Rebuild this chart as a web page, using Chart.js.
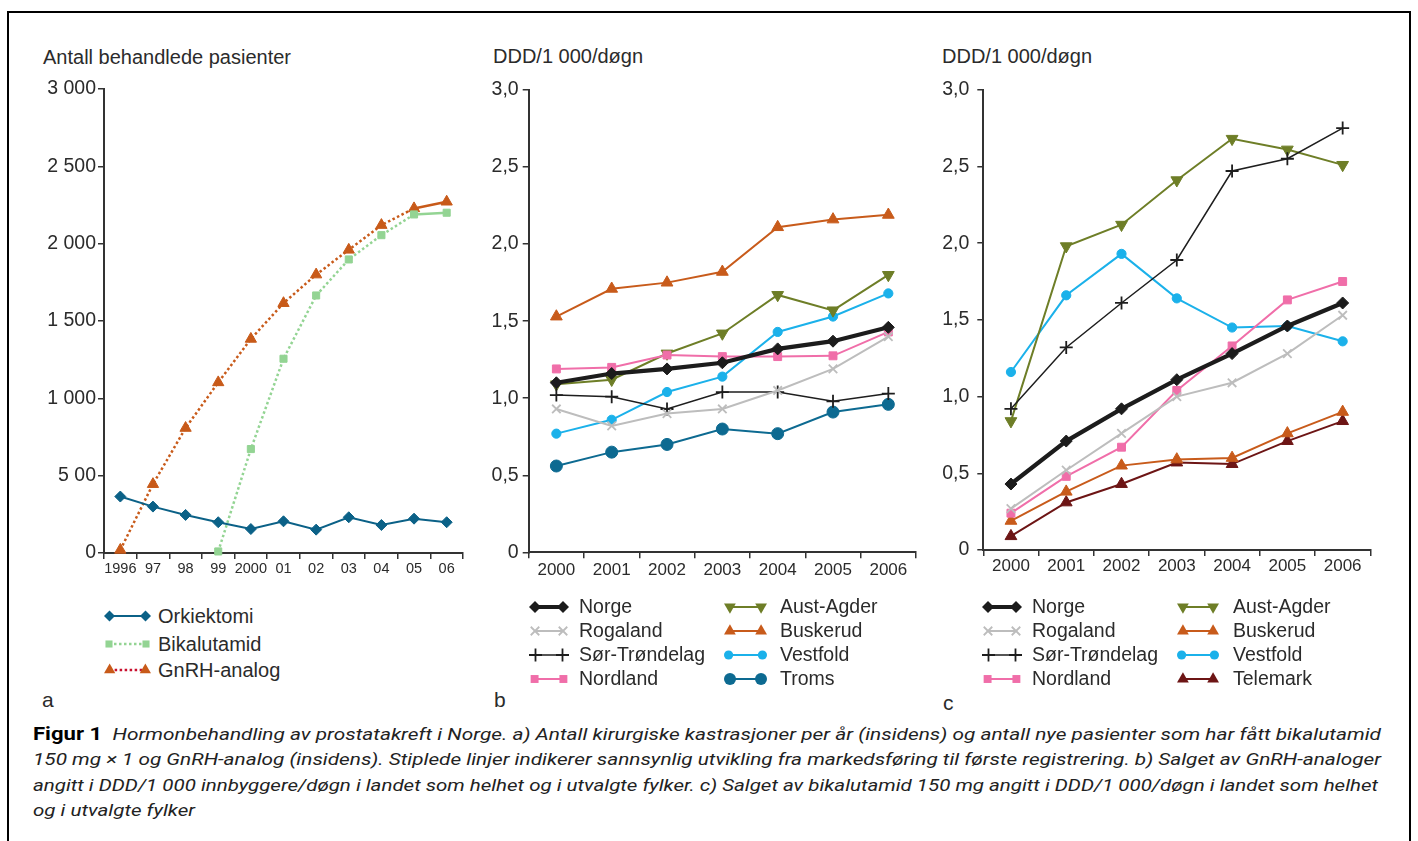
<!DOCTYPE html>
<html><head><meta charset="utf-8">
<script src="https://cdn.jsdelivr.net/npm/chart.js@4.4.1/dist/chart.umd.min.js"></script>
<style>
html,body{margin:0;padding:0;background:#fff}
body{width:1418px;height:841px;overflow:hidden;position:relative;font-family:"Liberation Sans",Arial,sans-serif;color:#2b2b2b}
#frame{position:absolute;left:7px;top:11px;width:1404px;height:900px;border:2.5px solid #000;border-bottom:none;box-sizing:border-box}
.t{position:absolute;white-space:nowrap;line-height:1;transform:translateY(-50%)}
canvas{position:absolute}
.cl{position:absolute;left:33px;white-space:nowrap;line-height:17px;font-size:17px;font-family:Roboto,"Open Sans",sans-serif;transform-origin:0 0;color:#1a1a1a}
.cl i{font-style:italic;color:#222}
.cl b{font-weight:700;font-style:normal;font-size:18px;color:#000}
</style>
</head>
<body>
<div id="frame"></div>

<div class="t" style="left:43px;top:57px;font-size:20px">Antall behandlede pasienter</div>
<div class="t" style="left:493px;top:56px;font-size:20px">DDD/1 000/døgn</div>
<div class="t" style="left:942px;top:56px;font-size:20px">DDD/1 000/døgn</div>

<canvas id="ca" width="475" height="530" style="left:10px;top:70px"></canvas>
<canvas id="cb" width="490" height="530" style="left:440px;top:70px"></canvas>
<canvas id="cc" width="490" height="530" style="left:900px;top:70px"></canvas>

<div id="legends"></div>

<div class="t" style="left:42px;top:699px;font-size:21px">a</div>
<div class="t" style="left:494px;top:699px;font-size:21px">b</div>
<div class="t" style="left:943px;top:702px;font-size:21px">c</div>

<div class="cl" data-w="1348" style="top:725px"><b>Figur 1</b>&nbsp;&nbsp;<i>Hormonbehandling av prostatakreft i Norge. a) Antall kirurgiske kastrasjoner per år (insidens) og antall nye pasienter som har fått bikalutamid</i></div>
<div class="cl" data-w="1348" style="top:751px"><i>150 mg × 1 og GnRH-analog (insidens). Stiplede linjer indikerer sannsynlig utvikling fra markedsføring til første registrering. b) Salget av GnRH-analoger</i></div>
<div class="cl" data-w="1345" style="top:776.5px"><i>angitt i DDD/1 000 innbyggere/døgn i landet som helhet og i utvalgte fylker. c) Salget av bikalutamid 150 mg angitt i DDD/1 000/døgn i landet som helhet</i></div>
<div class="cl" data-w="162" style="top:801.5px"><i>og i utvalgte fylker</i></div>

<script>
// ---------- DATA ----------
// Panel a
const yearsA = ['1996','97','98','99','2000','01','02','03','04','05','06'];
const orkiektomi = [365, 300, 246, 199, 155, 205, 151, 231, 181, 222, 199];
const bikalutamid = [null, null, null, 10, 672, 1256, 1665, 1898, 2055, 2189, 2200];
const gnrhAnalog = [20, 445, 808, 1103, 1384, 1615, 1800, 1960, 2120, 2228, 2271];
const yTicksA = ['0', '5 00', '1 000', '1 500', '2 000', '2 500', '3 000'];

// Panels b and c
const yearsBC = ['2000','2001','2002','2003','2004','2005','2006'];
const yTicksBC = ['0', '0,5', '1,0', '1,5', '2,0', '2,5', '3,0'];

// Panel b: GnRH-analoger, DDD/1 000/døgn
const bNorge        = [1.10, 1.16, 1.19, 1.23, 1.32, 1.37, 1.46];
const bRogaland     = [0.93, 0.82, 0.90, 0.93, 1.05, 1.19, 1.40];
const bSorTrondelag = [1.02, 1.01, 0.93, 1.04, 1.04, 0.98, 1.03];
const bNordland     = [1.19, 1.20, 1.28, 1.27, 1.27, 1.275, 1.43];
const bAustAgder    = [1.09, 1.12, 1.29, 1.42, 1.67, 1.57, 1.80];
const bBuskerud     = [1.53, 1.71, 1.75, 1.82, 2.11, 2.16, 2.19];
const bVestfold     = [0.77, 0.86, 1.04, 1.14, 1.43, 1.53, 1.68];
const bTroms        = [0.56, 0.65, 0.70, 0.80, 0.77, 0.91, 0.96];

// Panel c: bikalutamid 150 mg, DDD/1 000/døgn
const cNorge        = [0.43, 0.71, 0.92, 1.11, 1.28, 1.46, 1.61];
const cRogaland     = [0.27, 0.52, 0.76, 1.00, 1.09, 1.28, 1.53];
const cSorTrondelag = [0.92, 1.32, 1.61, 1.89, 2.47, 2.55, 2.75];
const cNordland     = [0.24, 0.48, 0.67, 1.04, 1.33, 1.63, 1.75];
const cAustAgder    = [0.84, 1.98, 2.12, 2.41, 2.68, 2.61, 2.51];
const cBuskerud     = [0.19, 0.38, 0.55, 0.59, 0.60, 0.76, 0.90];
const cVestfold     = [1.16, 1.66, 1.93, 1.64, 1.45, 1.46, 1.36];
const cTelemark     = [0.09, 0.31, 0.43, 0.57, 0.56, 0.71, 0.84];

// ---------- STYLES ----------
const ST = {
  'Orkiektomi':   {color:'#0b6187', width:2,   point:'rectRot', r:5.5},
  'Bikalutamid':  {color:'#93d493', width:2.5, point:'rect', r:5, dash:'2.5,2.5'},
  'GnRH-analog':  {color:'#c85a19', width:2.5, point:'triangle', r:6.5, dash:'2.5,2.5', legendLine:'#c8102e'},
  'Norge':        {color:'#1c1c1c', width:4.2, point:'rectRot', r:6},
  'Rogaland':     {color:'#bdbdbd', width:2,   point:'crossRot', r:6, pbw:1.8},
  'Sør-Trøndelag':{color:'#1e1e1e', width:1.5, point:'cross', r:6.5, pbw:1.8},
  'Nordland':     {color:'#f06ea9', width:2,   point:'rect', r:5.6},
  'Aust-Agder':   {color:'#6e7e27', width:2,   point:'triangle', rot:180, r:6.8},
  'Buskerud':     {color:'#c85b1b', width:2,   point:'triangle', r:6.8},
  'Vestfold':     {color:'#1bb1ea', width:2,   point:'circle', r:4.6},
  'Troms':        {color:'#0d6a91', width:2,   point:'circle', r:6},
  'Telemark':     {color:'#6d1515', width:2,   point:'triangle', r:6.8}
};

Chart.defaults.font.family = "'Liberation Sans', Arial, sans-serif";
Chart.defaults.color = '#2b2b2b';

function ds(label, data, extra) {
  const s = ST[label];
  return Object.assign({
    label, data,
    borderColor: s.color, backgroundColor: s.color,
    borderWidth: s.width,
    pointStyle: s.point, pointRadius: s.r, pointHoverRadius: s.r,
    pointRotation: s.rot || 0,
    pointBorderColor: s.color, pointBackgroundColor: s.color,
    pointBorderWidth: s.pbw || 1,
    tension: 0, fill: false, clip: false, spanGaps: false
  }, extra || {});
}

const AX = '#333';
function makeChart(id, labels, datasets, cfg) {
  return new Chart(document.getElementById(id), {
    type: 'line',
    data: { labels, datasets },
    options: {
      responsive: false, animation: false, devicePixelRatio: 1,
      events: [],
      layout: { padding: { top: cfg.padTop, right: cfg.padRight, left: 0, bottom: 0 } },
      plugins: { legend: { display: false }, tooltip: { enabled: false }, title: { display: false } },
      scales: {
        x: {
          type: 'category', offset: true,
          grid: { offset: true, drawOnChartArea: false, drawTicks: true, tickLength: 6, color: AX, lineWidth: 1.5 },
          border: { display: true, color: AX, width: 2 },
          ticks: { font: { size: cfg.xFont }, padding: cfg.xPad, color: '#2b2b2b', autoSkip: false, maxRotation: 0, minRotation: 0 },
          afterFit: s => { s.height = cfg.xHeight; }
        },
        y: {
          min: 0, max: cfg.yMax,
          ticks: { stepSize: cfg.step, font: { size: cfg.yFont }, padding: cfg.yPad, color: '#2b2b2b',
                   callback: (v, i) => cfg.yLabels[i] },
          grid: { drawOnChartArea: false, drawTicks: true, tickLength: 6, color: AX, lineWidth: 1.5 },
          border: { display: true, color: AX, width: 2 },
          afterFit: s => { s.width = cfg.yWidth; }
        }
      }
    }
  });
}

// dotted up to 2005, solid 2005-2006
const dottedUntil2005 = { borderDash: ctx => (ctx.p1DataIndex <= 9 ? [2.5, 2.5] : []) };

makeChart('ca', yearsA, [
  ds('Orkiektomi', orkiektomi),
  ds('Bikalutamid', bikalutamid, { segment: dottedUntil2005 }),
  ds('GnRH-analog', gnrhAnalog, { segment: dottedUntil2005 })
], { padTop: 19, padRight: 22, xHeight: 47, yWidth: 94, yMax: 3000, step: 500, yLabels: yTicksA,
     xFont: 14.5, xPad: 1, yFont: 19.5, yPad: 2 });

makeChart('cb', yearsBC, [
  ds('Norge', bNorge),
  ds('Rogaland', bRogaland),
  ds('Sør-Trøndelag', bSorTrondelag),
  ds('Nordland', bNordland),
  ds('Aust-Agder', bAustAgder),
  ds('Buskerud', bBuskerud),
  ds('Vestfold', bVestfold),
  ds('Troms', bTroms)
], { padTop: 20, padRight: 14, xHeight: 47.7, yWidth: 88.7, yMax: 3, step: 0.5, yLabels: yTicksBC,
     xFont: 17, xPad: 1.5, yFont: 19.5, yPad: 4 });

makeChart('cc', yearsBC, [
  ds('Norge', cNorge),
  ds('Rogaland', cRogaland),
  ds('Sør-Trøndelag', cSorTrondelag),
  ds('Nordland', cNordland),
  ds('Aust-Agder', cAustAgder),
  ds('Buskerud', cBuskerud),
  ds('Vestfold', cVestfold),
  ds('Telemark', cTelemark)
], { padTop: 18, padRight: 19.7, xHeight: 50, yWidth: 83.3, yMax: 3, step: 0.5, yLabels: yTicksBC,
     xFont: 17, xPad: 0.5, yFont: 19.5, yPad: 8 });

// ---------- LEGENDS (HTML + SVG) ----------
function marker(cx, cy, s) {
  const r = s.r, c = s.color;
  switch (s.point) {
    case 'rectRot': return `<polygon points="${cx},${cy-r} ${cx+r},${cy} ${cx},${cy+r} ${cx-r},${cy}" fill="${c}"/>`;
    case 'rect': { const h = r * Math.SQRT1_2; return `<rect x="${cx-h}" y="${cy-h}" width="${2*h}" height="${2*h}" fill="${c}"/>`; }
    case 'circle': return `<circle cx="${cx}" cy="${cy}" r="${r}" fill="${c}"/>`;
    case 'cross': return `<path d="M${cx-r},${cy}H${cx+r}M${cx},${cy-r}V${cy+r}" stroke="${c}" stroke-width="${s.pbw||1.5}"/>`;
    case 'crossRot': { const d = r * Math.SQRT1_2; return `<path d="M${cx-d},${cy-d}L${cx+d},${cy+d}M${cx-d},${cy+d}L${cx+d},${cy-d}" stroke="${c}" stroke-width="${s.pbw||1.5}"/>`; }
    case 'triangle': {
      const rot = (s.rot || 0) * Math.PI / 180; let pts = [];
      for (let k = 0; k < 3; k++) { const a = rot + k * 2 * Math.PI / 3; pts.push(`${cx + Math.sin(a) * r},${cy - Math.cos(a) * r}`); }
      return `<polygon points="${pts.join(' ')}" fill="${c}"/>`;
    }
  }
  return '';
}
function legendItem(x1, x2, textX, yc, label, size) {
  const s = ST[label], w = x2 - x1, h = 24, m = s.point === 'triangle' ? s.r * 0.87 : s.r;
  const lc = s.legendLine || s.color;
  let svg = `<svg width="${w}" height="${h}" style="position:absolute;left:${x1}px;top:${yc - h/2}px;overflow:visible">`;
  svg += `<line x1="${m}" y1="${h/2}" x2="${w - m}" y2="${h/2}" stroke="${lc}" stroke-width="${Math.min(s.width, 4)}"${s.dash ? ` stroke-dasharray="${s.dash}"` : ''}/>`;
  svg += marker(m, h/2, s) + marker(w - m, h/2, s) + '</svg>';
  svg += `<div class="t" style="left:${textX}px;top:${yc}px;font-size:${size}px">${label}</div>`;
  return svg;
}
const rowsBC = [606.5, 630.5, 654.5, 678.5];
let html = '';
html += legendItem(104, 151, 158, 615.5, 'Orkiektomi', 20);
html += legendItem(104, 151, 158, 644, 'Bikalutamid', 20);
html += legendItem(104, 151, 158, 669.5, 'GnRH-analog', 20);
const bCol1 = ['Norge','Rogaland','Sør-Trøndelag','Nordland'];
const bCol2 = ['Aust-Agder','Buskerud','Vestfold','Troms'];
const cCol2 = ['Aust-Agder','Buskerud','Vestfold','Telemark'];
bCol1.forEach((l, i) => { html += legendItem(529, 569, 579, rowsBC[i], l, 19.5); });
bCol2.forEach((l, i) => { html += legendItem(724, 767, 780, rowsBC[i], l, 19.5); });
bCol1.forEach((l, i) => { html += legendItem(982, 1022, 1032, rowsBC[i], l, 19.5); });
cCol2.forEach((l, i) => { html += legendItem(1177, 1219, 1233, rowsBC[i], l, 19.5); });
document.getElementById('legends').innerHTML = html;

// ---------- caption fitting ----------
document.querySelectorAll('.cl').forEach(el => {
  const target = parseFloat(el.dataset.w);
  const w = el.getBoundingClientRect().width;
  if (w > 0) el.style.transform = `scaleX(${target / w})`;
});
</script>
</body></html>
